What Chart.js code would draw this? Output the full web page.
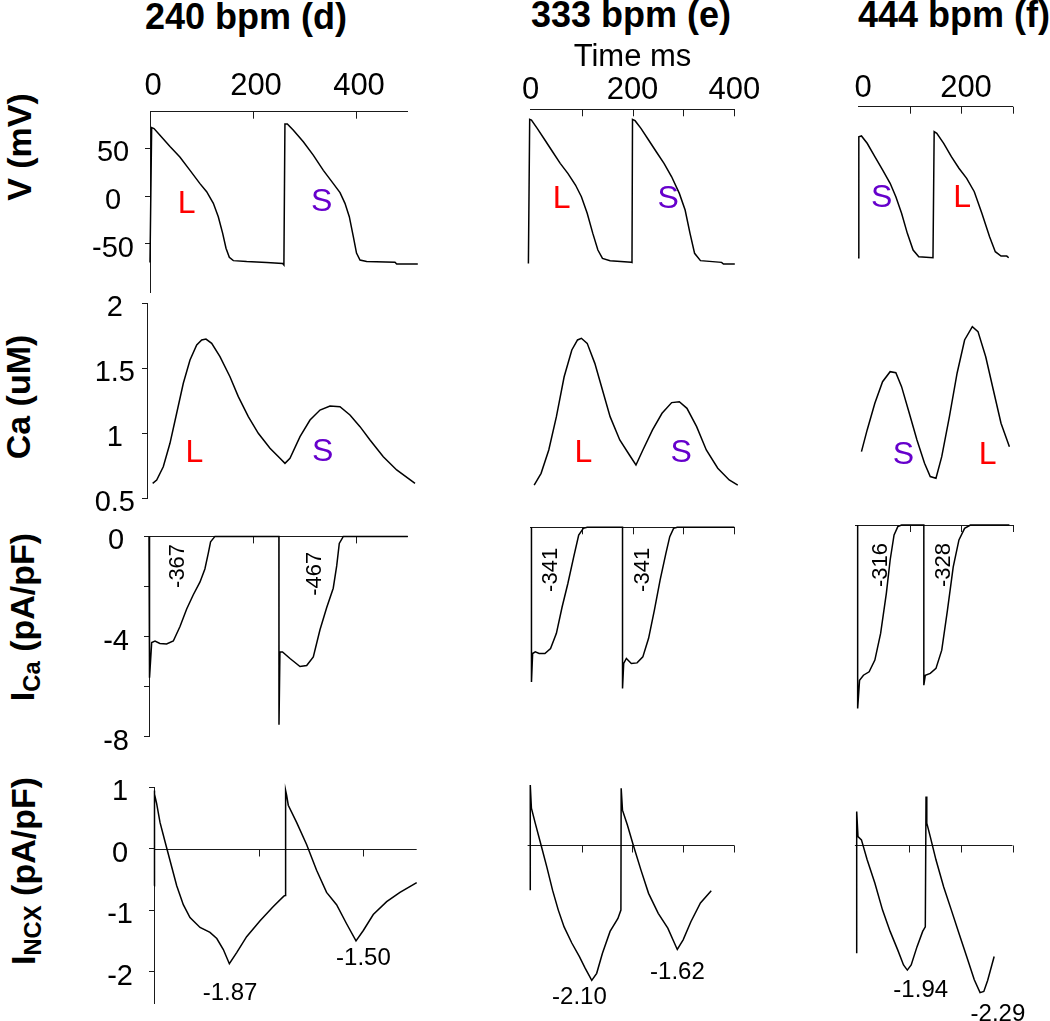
<!DOCTYPE html>
<html>
<head>
<meta charset="utf-8">
<script src="https://cdn.jsdelivr.net/npm/chart.js@4.4.1/dist/chart.umd.min.js"></script>
<style>
  html, body { margin: 0; padding: 0; background: #fff; overflow: hidden; width: 1050px; height: 1021px; }
  #wrap { position: relative; width: 1050px; height: 1021px; }
  #wrap canvas { position: absolute; }
  .ttl { position: absolute; font-family: "Liberation Sans", Arial, sans-serif; font-weight: bold; font-size: 36px;
         white-space: nowrap; color: #000; line-height: 1; transform: translate(-50%, -50%); }
  .ytl { position: absolute; font-family: "Liberation Sans", Arial, sans-serif; font-weight: bold; font-size: 34px;
         white-space: nowrap; color: #000; line-height: 1; transform: translate(-50%, -50%) rotate(-90deg); }
  .ytl sub { font-size: 0.7em; vertical-align: -0.25em; }
</style>
</head>
<body>
<div id="wrap">
  <div class="ttl" id="c0" style="left:246px; top:17px;"></div>
  <div class="ttl" id="c1" style="left:631px; top:15px;"></div>
  <div class="ttl" id="c2" style="left:954px; top:15px;"></div>
  <div class="ytl" style="left:19px; top:147px;">V (mV)</div>
  <div class="ytl" style="left:18px; top:397px;">Ca (uM)</div>
  <div class="ytl" style="left:24px; top:617px;">I<sub>Ca</sub> (pA/pF)</div>
  <div class="ytl" style="left:25px; top:871px;">I<sub>NCX</sub> (pA/pF)</div>
</div>
<script>
// ---------------- DATA (time ms, value) ----------------
const COLUMN_TITLES = ['240 bpm (d)', '333 bpm (e)', '444 bpm (f)'];

// 240 bpm
const V_240 = [[0,-70],[1,-70],[3.2,71.9],[7.8,71],[19.4,64],[38.8,52],[58,41],[77.7,27],[97,13],[110,4.5],[123,-7.7],[132.6,-21.8],[141,-39],[147.6,-55],[154,-64.5],[161.8,-68],[187.7,-69],[226.5,-70],[257.6,-71],[260,-72.6],[262,75.8],[266.7,75.8],[278,69.5],[297.7,57],[317,43],[336.6,27],[356,13],[369,3.5],[378.6,-7.7],[387,-21.8],[394.8,-42.8],[401,-60],[407.8,-67.4],[420.7,-69],[475.7,-69.8],[479,-71.6],[520,-71.6]];
const CA_240 = [[5.2,0.615],[13,0.64],[25.8,0.743],[38.8,0.923],[51.8,1.154],[64.7,1.385],[77.7,1.564],[90.7,1.679],[100.4,1.718],[108.7,1.725],[119.8,1.692],[135.9,1.589],[155.3,1.435],[171.5,1.282],[190.9,1.128],[210.3,1.0],[233,0.885],[252.4,0.808],[262.1,0.769],[271.8,0.808],[291.3,0.974],[310.7,1.102],[330.1,1.179],[349.5,1.21],[368.9,1.205],[388.3,1.141],[407.8,1.051],[427.2,0.949],[453,0.82],[479,0.718],[514.6,0.615]];
const ICA_240 = [[0,0],[1,-5.65],[5.2,-4.24],[11.6,-4.18],[21,-4.28],[34,-4.3],[47,-4.18],[59.9,-3.6],[72.8,-2.9],[85.6,-2.33],[98.6,-1.82],[108,-1.3],[114.6,-0.67],[119,-0.22],[127.5,0],[251,0],[251.2,-7.53],[253,-4.62],[258,-4.62],[272.5,-4.88],[291.8,-5.2],[304.7,-5.16],[317.5,-4.82],[330.4,-3.73],[343.4,-2.84],[356,-2.07],[362.7,-1.18],[367.7,-0.28],[375.5,0],[500,0]];
const NCX_240 = [[0,-0.6],[0.6,0.95],[1.3,0.89],[5,0.74],[11.5,0.43],[21,0.12],[30.6,-0.19],[43.4,-0.6],[56,-0.91],[68.8,-1.12],[88,-1.28],[107,-1.36],[120,-1.46],[132.5,-1.64],[144,-1.87],[158,-1.69],[177,-1.43],[202.7,-1.17],[228,-0.94],[248,-0.77],[250.5,-0.76],[251.5,0.95],[253.5,0.87],[256.6,0.71],[272.5,0.43],[291.6,0.07],[310.7,-0.35],[329.8,-0.71],[348.9,-0.91],[368,-1.22],[386,-1.5],[400,-1.33],[419,-1.07],[444.6,-0.86],[470,-0.71],[502,-0.55]];

// 333 bpm
const V_333 = [[-4.5,-71],[-2,80.7],[1.5,80],[12.8,71.2],[27.9,59],[43,46.6],[58,34.4],[73,23.9],[88,11.6],[99.6,-0.7],[111,-18.2],[122,-39.3],[132,-56.8],[141,-65.6],[156,-68],[197.7,-69.8],[199,-70],[200,80.7],[205,79.3],[216.6,71.2],[231.6,59],[246.7,46.6],[261.9,34.4],[276.9,20.3],[292,2.8],[303.4,-14.7],[313,-39.3],[322,-60.3],[333.5,-68],[375,-69.8],[378.7,-71.6],[401,-71.6]];
const CA_333 = [[6.8,0.602],[20.4,0.692],[35.5,0.872],[50.5,1.128],[65.7,1.435],[80.8,1.641],[92,1.718],[99.6,1.731],[111,1.692],[126,1.538],[141,1.333],[156,1.128],[175,0.949],[194,0.833],[206.8,0.756],[220.4,0.872],[239.3,1.026],[258,1.154],[277,1.236],[292,1.243],[307,1.192],[326,1.051],[345,0.872],[367.5,0.731],[390,0.641],[406.8,0.602]];
const ICA_333 = [[1.5,0],[1.5,-5.92],[3.8,-4.83],[9,-4.77],[16.6,-4.83],[27.9,-4.83],[39,-4.64],[50.5,-4.06],[61.8,-3.04],[73,-2.15],[84.5,-1.13],[94.3,-0.3],[103.4,-0.04],[111,0],[180.4,0],[180.4,-6.17],[182.7,-5.21],[188,-5.02],[197.7,-5.21],[209,-5.19],[220.3,-4.96],[231.6,-4.25],[243,-3.17],[254.2,-2.02],[265.6,-1],[273.2,-0.36],[280.7,-0.04],[288,0],[400,0]];
const NCX_333 = [[-0.75,-0.7],[-0.75,0.93],[1.5,0.57],[9,0.34],[20.4,0],[31.7,-0.34],[43,-0.7],[54.3,-1.01],[65.7,-1.27],[80.8,-1.52],[95.8,-1.73],[107,-1.91],[120,-2.1],[129.7,-1.99],[141,-1.68],[156,-1.34],[171.4,-1.14],[177.3,-1.01],[177.8,0.88],[180.4,0.54],[190,0.31],[201.5,0],[216.7,-0.39],[231.6,-0.75],[250.6,-1.06],[269.4,-1.29],[288,-1.62],[299.5,-1.47],[314.7,-1.19],[333.5,-0.9],[354.7,-0.71]];

// 444 bpm
const V_444 = [[0,-65],[1.6,62.4],[6.7,63.2],[17.8,55.5],[32.7,41.4],[47.7,27.4],[62.4,13.4],[73.5,-0.7],[84.6,-18.2],[95.8,-39.3],[107,-56.8],[118,-63.9],[145.6,-65],[147.9,67.7],[153,66],[166.4,55.5],[181.3,41.4],[196,29.2],[211,18.6],[225.8,4.5],[240.5,-18.2],[255.5,-42.8],[266.6,-58.6],[277.7,-63.2],[288.9,-63.2],[292.6,-65]];
const CA_444 = [[6.7,0.859],[17.8,1.026],[32.7,1.231],[47.7,1.397],[62.4,1.474],[73.5,1.466],[84.6,1.359],[99.6,1.154],[114.5,0.949],[129.2,0.769],[140.3,0.667],[151.4,0.654],[162.6,0.82],[177.5,1.128],[192.4,1.462],[207,1.718],[222,1.82],[233,1.782],[248,1.589],[262.8,1.333],[277.7,1.077],[294,0.897]];
const ICA_444 = [[-0.7,0],[-0.7,-7.02],[3,-5.94],[10.5,-5.75],[21.6,-5.62],[32.7,-5.17],[43.9,-4.15],[55,-2.62],[62.4,-1.34],[70,-0.38],[77.3,-0.06],[84.6,0],[127.8,0],[127.8,-6.13],[130.7,-5.75],[140.3,-5.68],[151.4,-5.49],[162.6,-4.79],[173.7,-3.26],[184.9,-1.6],[196,-0.57],[207,-0.13],[218.3,0],[294,0]];
const NCX_444 = [[-2.5,-1.68],[-2.5,0.52],[0,0.13],[6.7,0.08],[17.8,-0.23],[32.7,-0.59],[47.7,-1.01],[62.4,-1.34],[77.3,-1.63],[88.4,-1.86],[95.8,-1.94],[103.3,-1.86],[114.5,-1.58],[125.6,-1.34],[130.7,-1.27],[132.1,0.75],[133.6,0.34],[140.3,0.13],[151.4,-0.23],[166.4,-0.65],[181.3,-1.01],[196,-1.37],[211,-1.73],[225.8,-2.09],[237,-2.29],[244.3,-2.27],[251.7,-2.1],[264.4,-1.73]];

// tick values / labels
const TIME_LABELS_240 = [0, 200, 400];
const TIME_MARKS_240  = [200, 400];
const TIME_LABELS_333 = [0, 200, 400];
const TIME_MARKS_333  = [100, 200, 300, 400];
const TIME_LABELS_444 = [0, 200];
const TIME_MARKS_444  = [100, 200, 300];
const V_TICKS   = [-50, 0, 50];
const CA_TICKS  = [0.5, 1, 1.5, 2];
const ICA_TICKS = [-8, -6, -4, -2, 0];
const ICA_TICK_LABELS = [-8, -4, 0];
const NCX_TICKS = [-2, -1, 0, 1];

// annotation texts
const BEATS_240 = ['L', 'S'], BEATS_333 = ['L', 'S'], BEATS_444 = ['S', 'L'];
const ICA_INT_240 = ['-367', '-467'], ICA_INT_333 = ['-341', '-341'], ICA_INT_444 = ['-316', '-328'];
const NCX_MIN_240 = ['-1.87', '-1.50'], NCX_MIN_333 = ['-2.10', '-1.62'], NCX_MIN_444 = ['-1.94', '-2.29'];

// ---------------- RENDERING ----------------
COLUMN_TITLES.forEach((t, i) => { document.getElementById('c' + i).textContent = t; });

const FONT = '"Liberation Sans", Arial, Helvetica, sans-serif';
Chart.defaults.font.family = FONT;
Chart.defaults.color = '#000';
const AX = '#1a1a1a';
const BEAT_COLOR = { L: '#ff0000', S: '#6600cc' };
const wrap = document.getElementById('wrap');

const decor = {
  id: 'decor',
  beforeDatasetsDraw(chart, args, o) {
    const { ctx, chartArea: ca, scales: { x, y } } = chart;
    ctx.save();
    ctx.strokeStyle = AX; ctx.lineWidth = 1;
    if (o.topTicks) {
      for (const v of o.topTicks) {
        const px = Math.round(x.getPixelForValue(v)) + 0.5;
        ctx.beginPath(); ctx.moveTo(px, ca.top); ctx.lineTo(px, ca.top + 7); ctx.stroke();
      }
    }
    if (o.zeroLine) {
      const py = Math.round(y.getPixelForValue(0)) + 0.5;
      ctx.beginPath(); ctx.moveTo(ca.left, py); ctx.lineTo(ca.right, py); ctx.stroke();
      for (const v of o.zeroLine) {
        const px = Math.round(x.getPixelForValue(v)) + 0.5;
        ctx.beginPath(); ctx.moveTo(px, py); ctx.lineTo(px, py + 7); ctx.stroke();
      }
    }
    ctx.restore();
  },
  afterDatasetsDraw(chart, args, o) {
    const { ctx, scales: { x, y } } = chart;
    for (const l of (o.labels || [])) {
      ctx.save();
      ctx.translate(x.getPixelForValue(l.x), y.getPixelForValue(l.y));
      if (l.rotate) ctx.rotate(-Math.PI / 2);
      ctx.font = l.size + 'px ' + FONT;
      ctx.fillStyle = l.color || '#000';
      ctx.textAlign = 'center'; ctx.textBaseline = 'middle';
      ctx.fillText(l.text, 0, 0);
      ctx.restore();
    }
  }
};

function panel(p) {
  const M = Object.assign({ l: 20, t: 25, r: 40, b: 30 }, p.margin || {});
  const a = p.area;
  const cx = Math.floor(a.l) - M.l, cy = Math.floor(a.t) - M.t;
  const cw = Math.ceil(a.r) + M.r - cx, ch = Math.ceil(a.b) + M.b - cy;
  const pl = a.l - cx, pt = a.t - cy, pr = cx + cw - a.r, pb = cy + ch - a.b;
  const cv = document.createElement('canvas');
  cv.width = cw; cv.height = ch;
  Object.assign(cv.style, { left: cx + 'px', top: cy + 'px', width: cw + 'px', height: ch + 'px' });
  wrap.appendChild(cv);

  const xa = p.xAxis, ya = p.yAxis;
  const xScale = {
    type: 'linear', position: 'top', bounds: 'data', display: !!xa,
    afterDataLimits: s => { s.min = p.x[0]; s.max = p.x[1]; },
    grid: { display: false, drawTicks: false },
    border: { display: true, color: AX, width: 1 },
    ticks: { display: !!(xa && xa.labels), font: { size: 31 }, padding: (xa && xa.pad) || 0,
             labelOffset: (xa && xa.offset) || 0, maxRotation: 0, minRotation: 0, autoSkip: false, color: '#000' }
  };
  if (xa) {
    xScale.afterFit = s => { s.height = pt; };
    if (xa.labels) xScale.afterBuildTicks = s => { s.ticks = xa.labels.map(v => ({ value: v })); };
    if (xa.title) xScale.title = { display: true, text: xa.title, font: { size: 31 }, color: '#000',
                                   padding: { top: xa.titleY - cy - 18.6, bottom: 0 } };
  }
  const yScale = {
    type: 'linear', position: 'left', bounds: 'data', display: !!ya, min: p.y[0], max: p.y[1],
    grid: { display: true, drawOnChartArea: false, drawTicks: true, tickLength: 5, color: AX },
    border: { display: true, color: AX, width: 1 },
    ticks: { font: { size: 29 }, padding: ya ? ya.pad : 0, labelOffset: 5, crossAlign: 'center', color: '#000',
             autoSkip: false,
             callback: v => (ya && ya.labeled && !ya.labeled.includes(v)) ? '' : String(v) }
  };
  if (ya) {
    yScale.afterFit = s => { s.width = pl; };
    yScale.afterBuildTicks = s => { s.ticks = ya.ticks.map(v => ({ value: v })); };
  }

  new Chart(cv, {
    type: 'line',
    data: { datasets: [{ data: p.data.map(([x, y]) => ({ x, y })), borderColor: '#000', borderWidth: 1.5,
                         pointRadius: 0, pointHoverRadius: 0, tension: 0, fill: false, clip: false }] },
    options: {
      responsive: false, animation: false, devicePixelRatio: 1, events: [],
      layout: { padding: { left: ya ? 0 : pl, top: xa ? 0 : pt, right: pr, bottom: pb } },
      plugins: { legend: { display: false }, tooltip: { enabled: false },
                 decor: { topTicks: p.topTicks, zeroLine: p.zeroLine, labels: p.labels } },
      scales: { x: xScale, y: yScale }
    },
    plugins: [decor]
  });
}

const beat = (txt, x, y) => ({ text: txt, x, y, size: 32, color: BEAT_COLOR[txt] });
const vnum = (txt, x, y) => ({ text: txt, x, y, size: 22, rotate: true });
const hnum = (txt, x, y) => ({ text: txt, x, y, size: 24 });

// ---- column 1 : 240 bpm ----
panel({ area: { l: 150, t: 111.7, r: 407.5, b: 292 }, x: [0, 500], y: [-101, 88.7], data: V_240, margin: { l: 110, t: 75 },
        xAxis: { labels: TIME_LABELS_240, pad: 6.4, offset: 3 }, yAxis: { ticks: V_TICKS, pad: 11 },
        topTicks: TIME_MARKS_240, labels: [beat(BEATS_240[0], 71.3, -8.4), beat(BEATS_240[1], 333.4, -6)] });
panel({ area: { l: 147, t: 303.3, r: 407.5, b: 498.3 }, x: [-5.8, 500], y: [0.5, 2], data: CA_240, margin: { l: 110 },
        yAxis: { ticks: CA_TICKS, pad: 7 },
        labels: [beat(BEATS_240[0], 86, 0.846), beat(BEATS_240[1], 335.3, 0.858)] });
panel({ area: { l: 149, t: 529.3, r: 407.75, b: 738.3 }, x: [0, 500], y: [-8, 0], data: ICA_240, margin: { l: 110 },
        xAxis: {}, yAxis: { ticks: ICA_TICKS, labeled: ICA_TICK_LABELS, pad: 15 }, topTicks: TIME_MARKS_240,
        labels: [vnum(ICA_INT_240[0], 56.6, -1.18), vnum(ICA_INT_240[1], 320.8, -1.49)] });
panel({ area: { l: 154, t: 779.8, r: 416.7, b: 1006.8 }, x: [0, 502], y: [-2.52, 1], data: NCX_240, margin: { l: 110 },
        yAxis: { ticks: NCX_TICKS, pad: 16 }, zeroLine: TIME_MARKS_240,
        labels: [hnum(NCX_MIN_240[0], 145.3, -2.36), hnum(NCX_MIN_240[1], 400.2, -1.79)] });

// ---- column 2 : 333 bpm ----
panel({ area: { l: 530.7, t: 109.3, r: 734.3, b: 292 }, x: [0, 400], y: [-101, 91.3], data: V_333, margin: { t: 75 },
        xAxis: { labels: TIME_LABELS_333, pad: 0, title: 'Time ms', titleY: 57 }, topTicks: TIME_MARKS_333,
        labels: [beat(BEATS_333[0], 61, -3), beat(BEATS_333[1], 270, -3)] });
panel({ area: { l: 530.7, t: 303.3, r: 734.3, b: 498.3 }, x: [0, 400], y: [0.5, 2], data: CA_333,
        labels: [beat(BEATS_333[0], 103.4, 0.846), beat(BEATS_333[1], 295.8, 0.846)] });
panel({ area: { l: 530.7, t: 527.3, r: 734.3, b: 736.3 }, x: [0, 400], y: [-8, 0], data: ICA_333,
        xAxis: {}, topTicks: TIME_MARKS_333,
        labels: [vnum(ICA_INT_333[0], 39.2, -1.63), vnum(ICA_INT_333[1], 220.4, -1.63)] });
panel({ area: { l: 527.6, t: 780.5, r: 734.3, b: 1007.5 }, x: [-6, 400], y: [-2.52, 1], data: NCX_333,
        zeroLine: TIME_MARKS_333,
        labels: [hnum(NCX_MIN_333[0], 95.8, -2.36), hnum(NCX_MIN_333[1], 288.3, -1.98)] });

// ---- column 3 : 444 bpm ----
panel({ area: { l: 858, t: 106.7, r: 1012.5, b: 292 }, x: [0, 300], y: [-101, 94], data: V_444, margin: { t: 75 },
        xAxis: { labels: TIME_LABELS_444, pad: 0, offset: 5 }, topTicks: TIME_MARKS_444,
        labels: [beat(BEATS_444[0], 46, -2.4), beat(BEATS_444[1], 202, -2.4)] });
panel({ area: { l: 858, t: 303.3, r: 1012.5, b: 498.3 }, x: [0, 300], y: [0.5, 2], data: CA_444,
        labels: [beat(BEATS_444[0], 88.3, 0.833), beat(BEATS_444[1], 251.7, 0.833)] });
panel({ area: { l: 855.7, t: 525, r: 1012.5, b: 734 }, x: [-4.5, 300], y: [-8, 0], data: ICA_444,
        xAxis: {}, topTicks: TIME_MARKS_444,
        labels: [vnum(ICA_INT_444[0], 43.8, -1.53), vnum(ICA_INT_444[1], 166.3, -1.53)] });
panel({ area: { l: 854.9, t: 780.5, r: 1012.5, b: 1007.5 }, x: [-6, 300], y: [-2.52, 1], data: NCX_444,
        zeroLine: TIME_MARKS_444,
        labels: [hnum(NCX_MIN_444[0], 121.8, -2.25), hnum(NCX_MIN_444[1], 271.7, -2.62)] });
</script>
</body>
</html>
